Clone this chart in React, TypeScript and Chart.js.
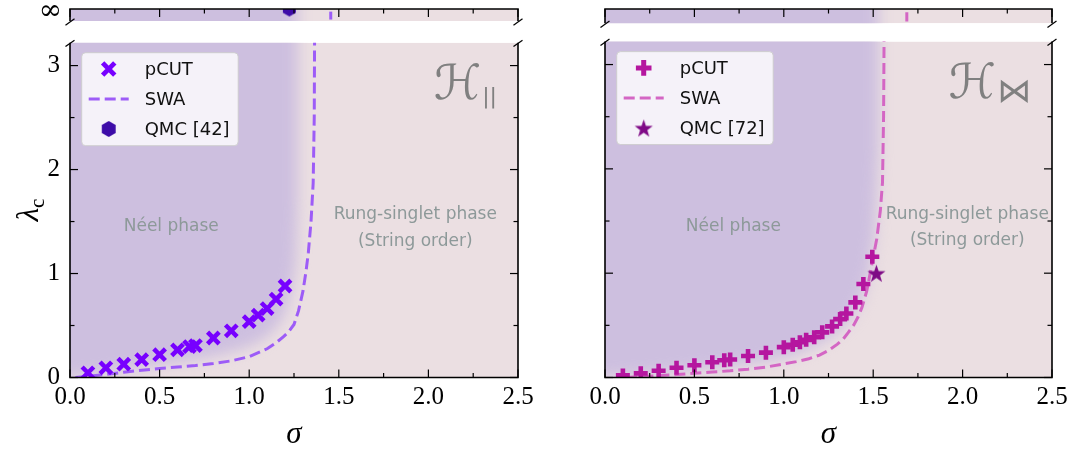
import React, { useEffect, useRef } from 'react';
import { Chart, registerables } from 'chart.js';

Chart.register(...registerables);

// ---------------- data ----------------
const xTickValues = [0, 0.5, 1, 1.5, 2, 2.5];
const xMinorValues = [0.25, 0.75, 1.25, 1.75, 2.25];
const yTickValues = [0, 1, 2, 3];
const yMinorValues = [0.5, 1.5, 2.5];
const infTickLabel = '∞';
const infTickLevel = [0.78];

// Left panel  (H_||)
const pcutSigmaL = [0.1, 0.2, 0.3, 0.4, 0.5, 0.6, 0.667, 0.7, 0.8, 0.9, 1.0, 1.05, 1.1, 1.15, 1.2];
const pcutLambdaL = [0.045, 0.093, 0.128, 0.172, 0.219, 0.266, 0.298, 0.307, 0.38, 0.449, 0.537, 0.6, 0.663, 0.754, 0.88];
const swaSigmaL = [0.03, 0.1, 0.2, 0.3, 0.4, 0.5, 0.6, 0.7, 0.8, 0.9, 1.0, 1.1, 1.15, 1.19, 1.22, 1.25, 1.275, 1.3, 1.317, 1.33, 1.345, 1.357, 1.363, 1.365];
const swaLambdaL = [0, 0.01, 0.03, 0.05, 0.07, 0.087, 0.1, 0.115, 0.135, 0.16, 0.2, 0.276, 0.335, 0.39, 0.44, 0.51, 0.64, 0.83, 1.02, 1.2, 1.5, 1.87, 2.5, 3.3];
const swaInfSigmaL = [1.455, 1.455];
const swaInfLevelL = [0.12, 0.78];
const qmcSigmaL = [1.224];
const qmcLevelL = [1.0]; // lambda = infinity (top of the broken axis)
const boundarySigmaL = [0, 0.2, 0.4, 0.6, 0.8, 0.95, 1.05, 1.13, 1.19, 1.23, 1.26, 1.27, 1.27];
const boundaryLambdaL = [0, 0.04, 0.09, 0.14, 0.2, 0.27, 0.34, 0.44, 0.58, 0.78, 1.1, 1.7, 3.4];

// Right panel (H_bowtie)
const pcutSigmaR = [0.1, 0.2, 0.3, 0.4, 0.5, 0.6, 0.667, 0.7, 0.8, 0.9, 1.0, 1.05, 1.09, 1.125, 1.17, 1.215, 1.27, 1.315, 1.35, 1.4, 1.445, 1.495];
const pcutLambdaR = [0.02, 0.04, 0.064, 0.093, 0.118, 0.146, 0.165, 0.172, 0.206, 0.238, 0.291, 0.314, 0.338, 0.361, 0.386, 0.433, 0.49, 0.56, 0.613, 0.72, 0.896, 1.158];
const swaSigmaR = [0.12, 0.2, 0.3, 0.4, 0.5, 0.6, 0.7, 0.8, 0.9, 1.0, 1.07, 1.14, 1.2, 1.25, 1.3, 1.333, 1.36, 1.39, 1.415, 1.437, 1.464, 1.492, 1.52, 1.54, 1.552, 1.558, 1.561];
const swaLambdaR = [0, 0.008, 0.018, 0.028, 0.04, 0.052, 0.064, 0.08, 0.1, 0.13, 0.152, 0.18, 0.215, 0.26, 0.32, 0.37, 0.43, 0.5, 0.58, 0.67, 0.83, 1.08, 1.33, 1.6, 1.87, 2.5, 3.3];
const swaInfSigmaR = [1.688, 1.688];
const swaInfLevelR = [0.12, 0.78];
const qmcSigmaR = [1.518];
const qmcLambdaR = [1.0];
const boundarySigmaR = [0, 0.2, 0.45, 0.7, 0.9, 1.05, 1.15, 1.25, 1.33, 1.39, 1.44, 1.48, 1.51, 1.53, 1.53];
const boundaryLambdaR = [0, 0.02, 0.06, 0.1, 0.15, 0.21, 0.28, 0.37, 0.48, 0.6, 0.78, 1.0, 1.4, 2.2, 3.4];

const phaseTexts = ['Néel phase', 'Rung-singlet phase', '(String order)'];
const phaseLambda = [1.448, 1.566, 1.311];
const phaseSigmaL = [0.565, 1.927, 1.927];
const phaseSigmaR = [0.718, 2.026, 2.026];

const legendLabels = ['pCUT', 'SWA'];
const qmcLabelL = 'QMC [42]';
const qmcLabelR = 'QMC [72]';
const hMain = 'ℋ';
const hSubL = '||';
const hSubR = '⋈';

// ---------------- styles ----------------
const PURPLE_BG = '#cdbfdf';
const PINK_BG = '#ebdfe2';
const SERIF = "'Liberation Serif', 'DejaVu Serif', serif";
const SANS = "'DejaVu Sans', sans-serif";
const SWA_DASH = [11, 5];

function makeHexagon(color: string, r: number) {
  const size = Math.ceil(2 * r + 2);
  const c = document.createElement('canvas');
  c.width = size; c.height = size;
  const g = c.getContext('2d')!;
  g.fillStyle = color;
  g.beginPath();
  for (let i = 0; i < 6; i++) {
    const ang = -Math.PI / 2 + (i * Math.PI) / 3;
    const px = size / 2 + r * Math.cos(ang);
    const py = size / 2 + r * Math.sin(ang);
    if (i === 0) g.moveTo(px, py); else g.lineTo(px, py);
  }
  g.closePath();
  g.fill();
  return c;
}

function makeStar(color: string, r: number) {
  const size = Math.ceil(2 * r + 2);
  const c = document.createElement('canvas');
  c.width = size; c.height = size;
  const g = c.getContext('2d')!;
  g.fillStyle = color;
  g.beginPath();
  const inner = r * 0.4;
  for (let i = 0; i < 10; i++) {
    const ang = -Math.PI / 2 + (i * Math.PI) / 5;
    const rr = i % 2 === 0 ? r : inner;
    const px = size / 2 + rr * Math.cos(ang);
    const py = size / 2 + 1 + rr * Math.sin(ang);
    if (i === 0) g.moveTo(px, py); else g.lineTo(px, py);
  }
  g.closePath();
  g.fill();
  return c;
}

type Panel = {
  rightPad: number;
  showY: boolean;
  pcutS: number[]; pcutL: number[]; pcutStyle: string; pcutRadius: number; pcutWidth: number; pcutColor: string;
  legR: number; legW: number;
  swaS: number[]; swaL: number[]; swaColor: string;
  swaInfS: number[]; swaInfL: number[];
  qmcS: number[]; qmcL: number[]; qmcInStrip: boolean; qmcImg: HTMLCanvasElement; qmcLegendImg: HTMLCanvasElement; qmcLabel: string;
  bS: number[]; bL: number[];
  phaseS: number[];
  hSub: string; hSubFont: string; hSubDy: number;
};

function pts(xs: number[], ys: number[]) {
  return xs.map((x, i) => ({ x, y: ys[i] }));
}

function drawCrossMarker(ctx: CanvasRenderingContext2D, style: string, x: number, y: number, r: number, w: number, color: string) {
  ctx.save();
  ctx.strokeStyle = color;
  ctx.lineWidth = w;
  ctx.lineCap = 'butt';
  ctx.beginPath();
  if (style === 'crossRot') {
    const d = Math.cos(Math.PI / 4) * r;
    ctx.moveTo(x - d, y - d); ctx.lineTo(x + d, y + d);
    ctx.moveTo(x + d, y - d); ctx.lineTo(x - d, y + d);
  } else {
    ctx.moveTo(x - r, y); ctx.lineTo(x + r, y);
    ctx.moveTo(x, y - r); ctx.lineTo(x, y + r);
  }
  ctx.stroke();
  ctx.restore();
}

function bgPlugin(p: Panel, strip: boolean) {
  return {
    id: 'phaseBg',
    beforeDraw(chart: any) {
      const { ctx, chartArea: a, scales } = chart;
      const xs = scales.x, ys = scales.y;
      ctx.save();
      ctx.beginPath();
      ctx.rect(a.left, a.top, a.right - a.left, a.bottom - a.top);
      ctx.clip();
      ctx.fillStyle = PINK_BG;
      ctx.fillRect(a.left, a.top, a.right - a.left, a.bottom - a.top);
      ctx.filter = 'blur(7px)';
      ctx.fillStyle = PURPLE_BG;
      ctx.beginPath();
      if (strip) {
        const xr = xs.getPixelForValue(p.bS[p.bS.length - 1]);
        ctx.rect(a.left - 40, a.top - 40, xr - a.left + 40, a.bottom - a.top + 80);
      } else {
        ctx.moveTo(a.left - 40, ys.getPixelForValue(p.bL[0]));
        for (let i = 0; i < p.bS.length; i++) {
          ctx.lineTo(xs.getPixelForValue(p.bS[i]), ys.getPixelForValue(p.bL[i]));
        }
        ctx.lineTo(xs.getPixelForValue(p.bS[p.bS.length - 1]), a.top - 40);
        ctx.lineTo(a.left - 40, a.top - 40);
        ctx.closePath();
      }
      ctx.fill();
      ctx.restore();
    },
  };
}

function framePlugin(strip: boolean) {
  return {
    id: 'frame',
    afterDatasetsDraw(chart: any) {
      const { ctx, chartArea: a, scales } = chart;
      const xs = scales.x, ys = scales.y;
      ctx.save();
      ctx.strokeStyle = '#000';
      ctx.lineCap = 'butt';
      ctx.lineWidth = 1.6;
      ctx.beginPath();
      if (!strip) {
        ctx.moveTo(a.left, a.top); ctx.lineTo(a.left, a.bottom); ctx.lineTo(a.right, a.bottom); ctx.lineTo(a.right, a.top);
      } else {
        ctx.moveTo(a.left, a.bottom); ctx.lineTo(a.left, a.top); ctx.lineTo(a.right, a.top); ctx.lineTo(a.right, a.bottom);
      }
      ctx.stroke();
      ctx.lineWidth = 1.2;
      const seg = (x1: number, y1: number, x2: number, y2: number) => {
        ctx.beginPath(); ctx.moveTo(x1, y1); ctx.lineTo(x2, y2); ctx.stroke();
      };
      const yEdge = strip ? a.top : a.bottom;
      const dir = strip ? 1 : -1;
      xTickValues.forEach((v) => { const px = xs.getPixelForValue(v); seg(px, yEdge, px, yEdge + dir * 8); });
      xMinorValues.forEach((v) => { const px = xs.getPixelForValue(v); seg(px, yEdge, px, yEdge + dir * 4.5); });
      if (!strip) {
        yTickValues.forEach((v) => {
          const py = ys.getPixelForValue(v);
          seg(a.left, py, a.left + 8, py); seg(a.right, py, a.right - 8, py);
        });
        yMinorValues.forEach((v) => {
          const py = ys.getPixelForValue(v);
          seg(a.left, py, a.left + 4.5, py); seg(a.right, py, a.right - 4.5, py);
        });
      }
      const yb = strip ? a.bottom + 1 : a.top + 0.7;
      [a.left, a.right].forEach((x0: number) => seg(x0 - 4.5, yb + 3.2, x0 + 4.5, yb - 3.2));
      ctx.restore();
    },
  };
}

function annotPlugin(p: Panel) {
  return {
    id: 'annot',
    afterDatasetsDraw(chart: any) {
      const { ctx, chartArea: a, scales } = chart;
      const xs = scales.x, ys = scales.y;
      ctx.save();
      // phase labels
      ctx.font = `17px ${SANS}`;
      ctx.fillStyle = '#8d9999';
      ctx.textAlign = 'center';
      ctx.textBaseline = 'middle';
      phaseTexts.forEach((t, i) => {
        ctx.fillText(t, xs.getPixelForValue(p.phaseS[i]), ys.getPixelForValue(phaseLambda[i]));
      });
      // H label
      ctx.fillStyle = '#808080';
      ctx.textAlign = 'left';
      ctx.textBaseline = 'alphabetic';
      ctx.font = p.hSubFont;
      const subW = ctx.measureText(p.hSub).width;
      const subX = a.right - 21 - subW;
      ctx.fillText(p.hSub, subX, a.top + 60 + p.hSubDy);
      ctx.font = `48px 'DejaVu Sans', sans-serif`;
      const hW = ctx.measureText(hMain).width;
      ctx.fillText(hMain, subX - 1 - hW, a.top + 56);
      // legend
      const bx = a.left + 11.7, by = a.top + 10, bw = 156.5, bh = 93;
      ctx.beginPath();
      ctx.roundRect(bx, by, bw, bh, 4);
      ctx.fillStyle = 'rgba(255,255,255,0.8)';
      ctx.fill();
      ctx.strokeStyle = 'rgba(204,204,204,0.9)';
      ctx.lineWidth = 1;
      ctx.stroke();
      const mx = bx + 27;
      const rows = [by + 16.3, by + 46.3, by + 76.3];
      drawCrossMarker(ctx, p.pcutStyle, mx, rows[0], p.legR, p.legW, p.pcutColor);
      ctx.save();
      ctx.strokeStyle = p.swaColor;
      ctx.lineWidth = 3;
      ctx.setLineDash(SWA_DASH);
      ctx.beginPath();
      ctx.moveTo(bx + 7, rows[1]); ctx.lineTo(bx + 47, rows[1]);
      ctx.stroke();
      ctx.restore();
      const img = p.qmcLegendImg;
      ctx.drawImage(img, mx - img.width / 2, rows[2] - img.height / 2);
      ctx.font = `18px ${SANS}`;
      ctx.fillStyle = '#111';
      ctx.textBaseline = 'middle';
      [legendLabels[0], legendLabels[1], p.qmcLabel].forEach((t, i) => ctx.fillText(t, bx + 63, rows[i] + 1));
      // y title
      if (p.showY) {
        ctx.save();
        ctx.translate(30, 180);
        ctx.rotate(-Math.PI / 2);
        ctx.fillStyle = '#000';
        ctx.textBaseline = 'alphabetic';
        ctx.font = `italic 31px ${SERIF}`;
        const wl = ctx.measureText('λ').width;
        ctx.font = `21px ${SERIF}`;
        const wc = ctx.measureText('c').width;
        const x0 = -(wl + wc) / 2;
        ctx.font = `italic 31px ${SERIF}`;
        ctx.fillText('λ', x0, 7.5);
        ctx.font = `21px ${SERIF}`;
        ctx.fillText('c', x0 + wl, 13.5);
        ctx.restore();
      }
      ctx.restore();
    },
  };
}

function mainConfig(p: Panel): any {
  const datasets: any[] = [
    {
      label: 'SWA', data: pts(p.swaS, p.swaL), showLine: true, borderColor: p.swaColor, borderWidth: 3,
      borderDash: SWA_DASH, pointRadius: 0, pointHoverRadius: 0, fill: false, tension: 0, clip: 0, order: 3,
    },
    {
      label: 'pCUT', data: pts(p.pcutS, p.pcutL), showLine: false, pointStyle: p.pcutStyle, pointRadius: p.pcutRadius,
      pointBorderWidth: p.pcutWidth, borderWidth: p.pcutWidth, borderColor: p.pcutColor, backgroundColor: p.pcutColor, clip: 0, order: 2,
    },
  ];
  if (!p.qmcInStrip) {
    datasets.push({
      label: p.qmcLabel, data: pts(p.qmcS, p.qmcL), showLine: false, pointStyle: p.qmcImg, pointRadius: 9, clip: 0, order: 1,
    });
  }
  return {
    type: 'scatter',
    data: { datasets },
    options: {
      animation: false, responsive: false, events: [],
      layout: { padding: { left: 0, right: p.rightPad, top: 7, bottom: 0 } },
      plugins: { legend: { display: false }, tooltip: { enabled: false } },
      scales: {
        x: {
          type: 'linear', min: 0, max: 2.5, position: 'bottom',
          afterFit: (s: any) => { s.height = 72.5; s.paddingLeft = 0; s.paddingRight = 0; },
          afterBuildTicks: (s: any) => { s.ticks = xTickValues.map((v) => ({ value: v })); },
          ticks: { callback: (v: any) => Number(v).toFixed(1), font: { family: SERIF, size: 25 }, color: '#000', padding: 5, maxRotation: 0, autoSkip: false },
          grid: { display: false, drawTicks: false }, border: { display: false },
          title: { display: true, text: 'σ', font: { family: SERIF, size: 31, style: 'italic' }, color: '#000', padding: { top: 0, bottom: -3 } },
        },
        y: {
          type: 'linear', min: 0, max: 3.22,
          afterFit: (s: any) => { s.width = 70; s.paddingTop = 0; s.paddingBottom = 0; },
          afterBuildTicks: (s: any) => { s.ticks = yTickValues.map((v) => ({ value: v })); },
          ticks: { display: p.showY, callback: (v: any) => String(v), font: { family: SERIF, size: 25 }, color: '#000', padding: 10 },
          grid: { display: false, drawTicks: false }, border: { display: false },
        },
      },
    },
    plugins: [bgPlugin(p, false), framePlugin(false), annotPlugin(p)],
  };
}

function stripConfig(p: Panel): any {
  const datasets: any[] = [
    {
      label: 'SWA', data: pts(p.swaInfS, p.swaInfL), showLine: true, borderColor: p.swaColor, borderWidth: 3,
      pointRadius: 0, fill: false, clip: 0, order: 2,
    },
  ];
  if (p.qmcInStrip) {
    datasets.push({ label: p.qmcLabel, data: pts(p.qmcS, p.qmcL), showLine: false, pointStyle: p.qmcImg, pointRadius: 8, clip: 0, order: 1 });
  }
  return {
    type: 'scatter',
    data: { datasets },
    options: {
      animation: false, responsive: false, events: [],
      layout: { padding: { left: 0, right: p.rightPad, top: 9, bottom: 6.7 } },
      plugins: { legend: { display: false }, tooltip: { enabled: false } },
      scales: {
        x: { type: 'linear', display: false, min: 0, max: 2.5 },
        y: {
          type: 'linear', min: 0, max: 1,
          afterFit: (s: any) => { s.width = 70; s.paddingTop = 0; s.paddingBottom = 0; },
          afterBuildTicks: (s: any) => { s.ticks = infTickLevel.map((v) => ({ value: v })); },
          ticks: { display: p.showY, callback: () => infTickLabel, font: { family: "'DejaVu Serif', serif", size: 28 }, color: '#000', padding: 8 },
          grid: { display: false, drawTicks: false }, border: { display: false },
        },
      },
    },
    plugins: [bgPlugin(p, true), framePlugin(true)],
  };
}

export default function App() {
  const sL = useRef<HTMLCanvasElement>(null);
  const mL = useRef<HTMLCanvasElement>(null);
  const sR = useRef<HTMLCanvasElement>(null);
  const mR = useRef<HTMLCanvasElement>(null);

  useEffect(() => {
    const left: Panel = {
      rightPad: 17, showY: true,
      pcutS: pcutSigmaL, pcutL: pcutLambdaL, pcutStyle: 'crossRot', pcutRadius: 8.2, pcutWidth: 4.5, pcutColor: '#7700ff',
      legR: 8.6, legW: 4.8,
      swaS: swaSigmaL, swaL: swaLambdaL, swaColor: '#9d5cf7',
      swaInfS: swaInfSigmaL, swaInfL: swaInfLevelL,
      qmcS: qmcSigmaL, qmcL: qmcLevelL, qmcInStrip: true,
      qmcImg: makeHexagon('#3d0ca8', 7.5), qmcLegendImg: makeHexagon('#3d0ca8', 8), qmcLabel: qmcLabelL,
      bS: boundarySigmaL, bL: boundaryLambdaL, phaseS: phaseSigmaL,
      hSub: hSubL, hSubFont: `22px ${SANS}`, hSubDy: 0,
    };
    const right: Panel = {
      rightPad: 18, showY: false,
      pcutS: pcutSigmaR, pcutL: pcutLambdaR, pcutStyle: 'cross', pcutRadius: 7, pcutWidth: 4.6, pcutColor: '#b5169f',
      legR: 7.8, legW: 5,
      swaS: swaSigmaR, swaL: swaLambdaR, swaColor: '#d466c4',
      swaInfS: swaInfSigmaR, swaInfL: swaInfLevelR,
      qmcS: qmcSigmaR, qmcL: qmcLambdaR, qmcInStrip: false,
      qmcImg: makeStar('#7f0a86', 9.5), qmcLegendImg: makeStar('#7f0a86', 9.5), qmcLabel: qmcLabelR,
      bS: boundarySigmaR, bL: boundaryLambdaR, phaseS: phaseSigmaR,
      hSub: hSubR, hSubFont: `34px ${SANS}`, hSubDy: 0,
    };
    const charts = [
      new Chart(sL.current!, stripConfig(left)),
      new Chart(mL.current!, mainConfig(left)),
      new Chart(sR.current!, stripConfig(right)),
      new Chart(mR.current!, mainConfig(right)),
    ];
    return () => charts.forEach((c) => c.destroy());
  }, []);

  const abs = (l: number, t: number, w: number, h: number): React.CSSProperties => ({
    position: 'absolute', left: l, top: t, width: w, height: h,
  });

  return (
    <div style={{ position: 'absolute', left: 0, top: 0, width: 1070, height: 450, background: '#fff', overflow: 'hidden' }}>
      <canvas ref={sL} width={535} height={30} style={abs(0, 0, 535, 30)} />
      <canvas ref={mL} width={535} height={420} style={abs(0, 30, 535, 420)} />
      <canvas ref={sR} width={535} height={30} style={abs(535, 0, 535, 30)} />
      <canvas ref={mR} width={535} height={420} style={abs(535, 30, 535, 420)} />
    </div>
  );
}
